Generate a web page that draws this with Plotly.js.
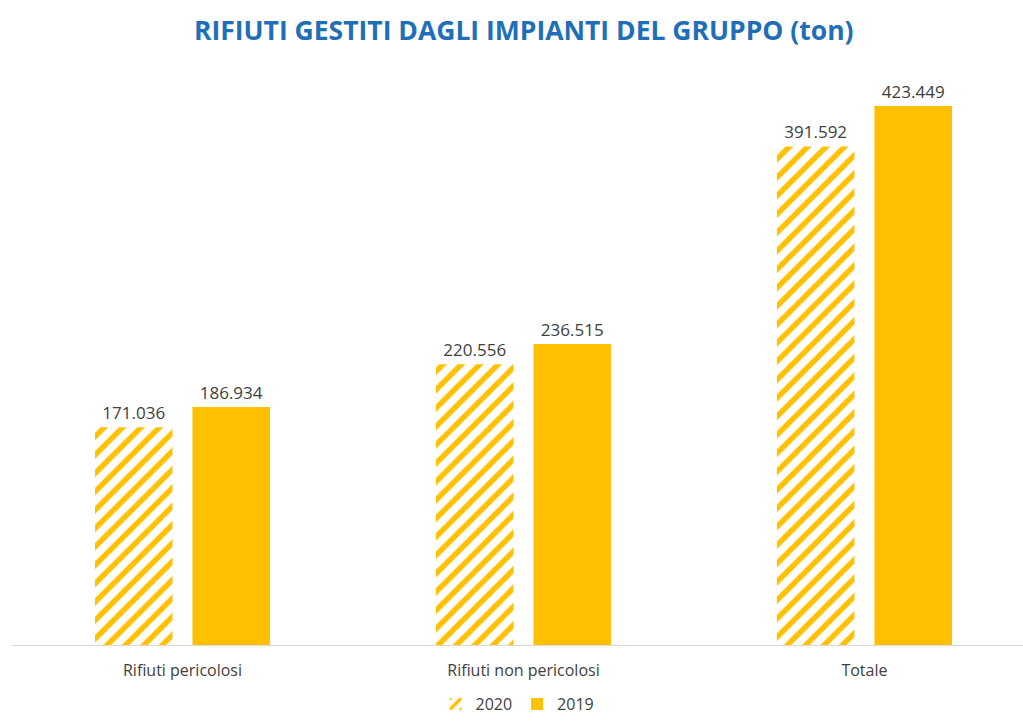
<!DOCTYPE html>
<html><head><meta charset="utf-8">
<script src="https://cdn.plot.ly/plotly-3.0.1.min.js"></script>
<style>html,body{margin:0;padding:0;background:#fff;}#chart{width:1023px;height:721px;}</style>
</head><body><div id="chart"></div>
<script>
const categories = ["Rifiuti pericolosi", "Rifiuti non pericolosi", "Totale"];
const values2020 = [171036, 220556, 391592];
const values2019 = [186934, 236515, 423449];
const seriesNames = ["2020", "2019"];

const gold = "#FFC000";
const textGray = "#404040";
const fontFam = "Open Sans, Liberation Sans, sans-serif";

const traces = [
  {
    type: "bar", name: seriesNames[0], x: categories, y: values2020,
    marker: { color: gold, pattern: { shape: "/", fgcolor: gold, bgcolor: "#ffffff", size: 13, solidity: 0.42, fillmode: "replace" } },
    texttemplate: "%{y:,.0f}", textposition: "outside", cliponaxis: false,
    textfont: { family: fontFam, size: 17, color: textGray },
    hoverinfo: "skip"
  },
  {
    type: "bar", name: seriesNames[1], x: categories, y: values2019,
    marker: { color: gold },
    texttemplate: "%{y:,.0f}", textposition: "outside", cliponaxis: false,
    textfont: { family: fontFam, size: 17, color: textGray },
    hoverinfo: "skip"
  }
];

const layout = {
  width: 1023, height: 721,
  margin: { l: 12, r: 0, t: 60, b: 76 },
  paper_bgcolor: "#ffffff", plot_bgcolor: "#ffffff",
  separators: ",.",
  barmode: "group", bargap: 0.428, bargroupgap: 0.205,
  title: { text: "<b>RIFIUTI GESTITI DAGLI IMPIANTI DEL GRUPPO (ton)</b>", x: 0.512, xanchor: "center", y: 0.958, yanchor: "middle",
           font: { family: fontFam, size: 26.5, color: "#1F6FB8" } },
  xaxis: { range: [-0.5, 2.465], showline: true, linecolor: "#d9d9d9", linewidth: 1,
           ticks: "outside", ticklen: 11, tickcolor: "rgba(0,0,0,0)", showgrid: false, zeroline: false,
           tickfont: { family: fontFam, size: 16, color: textGray } },
  yaxis: { range: [0, 459500], visible: false, showgrid: false, zeroline: false, fixedrange: true },
  showlegend: true,
  legend: { orientation: "h", x: 0.5, xanchor: "center", yref: "container", y: -0.012, yanchor: "bottom",
            font: { family: fontFam, size: 16, color: textGray }, itemwidth: 30, traceorder: "normal" }
};

Plotly.newPlot("chart", traces, layout, { displayModeBar: false, staticPlot: true });
</script></body></html>
